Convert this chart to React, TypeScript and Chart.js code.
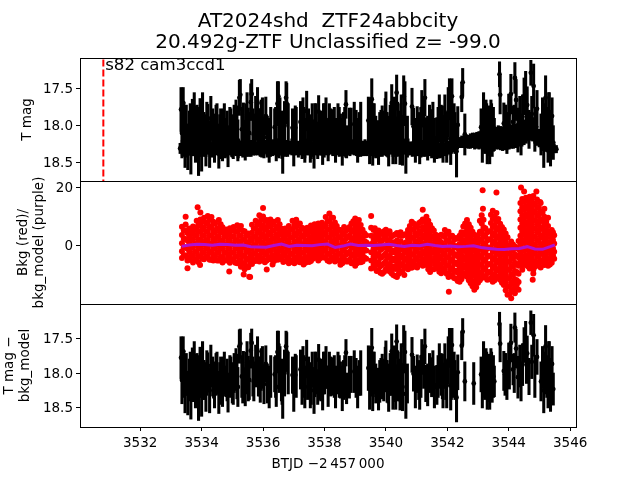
import React, { useEffect, useRef } from "react";
import { Chart, registerables } from "chart.js";

Chart.register(...registerables);

const FONT = "'DejaVu Sans'";
const titleLines = ["AT2024shd  ZTF24abbcity", "20.492g-ZTF Unclassified z= -99.0"];
const annotationText = "s82 cam3ccd1";
const xLabel = "BTJD \u22122\u2009457\u2009000";
const xTicks = [3532, 3534, 3536, 3538, 3540, 3542, 3544, 3546];
const magTicksTop = [17.5, 18, 18.5];
const bkgTicks = [0, 20];
const magTicksBottom = [17.5, 18, 18.5];
const eventTime = 3530.8;
const eventMags = [17.1, 18.754];

// binned light curve: time, magnitude, error
const lcTimes = [3533.33,3533.36,3533.4,3533.42,3533.46,3533.5,3533.55,3533.6,3533.65,3533.7,3533.76,3533.8,3533.85,3533.9,3533.95,3534.0,3534.03,3534.08,3534.14,3534.2,3534.26,3534.3,3534.36,3534.42,3534.5,3534.56,3534.62,3534.68,3534.74,3534.8,3534.86,3534.92,3535.0,3535.06,3535.12,3535.18,3535.23,3535.26,3535.31,3535.36,3535.42,3535.48,3535.55,3535.6,3535.63,3535.7,3535.76,3535.82,3535.88,3535.94,3535.98,3536.03,3536.09,3536.2,3536.38,3536.43,3536.47,3536.5,3536.55,3536.6,3536.64,3536.7,3536.75,3536.77,3536.96,3537.0,3537.05,3537.22,3537.27,3537.3,3537.36,3537.42,3537.48,3537.54,3537.6,3537.66,3537.72,3537.78,3537.81,3537.88,3537.94,3538.0,3538.05,3538.12,3538.2,3538.27,3538.36,3538.44,3538.52,3538.58,3538.66,3538.7,3538.72,3538.81,3538.97,3539.03,3539.08,3539.13,3539.43,3539.47,3539.5,3539.54,3539.57,3539.62,3539.76,3539.84,3539.93,3539.98,3540.0,3540.04,3540.09,3540.14,3540.19,3540.23,3540.28,3540.32,3540.35,3540.4,3540.46,3540.5,3540.54,3540.58,3540.62,3540.65,3540.85,3540.9,3540.96,3541.02,3541.1,3541.17,3541.23,3541.27,3541.36,3541.42,3541.49,3541.58,3541.66,3541.74,3541.8,3541.86,3541.92,3541.98,3542.03,3542.07,3542.11,3542.15,3542.2,3542.25,3542.3,3542.34,3542.47,3542.5,3542.57,3542.86,3543.1,3543.14,3543.18,3543.22,3543.26,3543.3,3543.34,3543.38,3543.42,3543.46,3543.5,3543.53,3543.7,3543.72,3543.84,3543.88,3543.94,3544.0,3544.07,3544.14,3544.2,3544.24,3544.3,3544.4,3544.45,3544.5,3544.55,3544.6,3544.72,3544.75,3544.81,3544.92,3545.05,3545.1,3545.14,3545.2,3545.24,3545.28,3545.32,3545.36,3545.41,3545.45];
const lcMags = [17.78,18.1,17.69,17.98,18.27,18.0,18.3,18.1,18.32,17.9,17.85,18.22,18.05,18.3,17.88,18.32,17.84,18.1,18.2,17.98,18.25,17.9,18.05,18.25,18.0,18.28,18.02,18.2,18.0,18.12,18.28,18.05,18.18,18.0,17.95,18.2,17.62,17.58,18.05,17.95,18.22,17.85,18.1,17.68,17.57,18.12,17.9,17.69,18.05,17.95,17.92,18.16,17.87,18.2,18.02,18.2,17.7,17.6,17.9,18.1,18.3,18.0,17.62,17.7,18.03,18.27,18.03,17.95,18.2,17.92,18.2,17.8,18.05,18.2,17.95,18.25,18.0,18.2,17.81,18.1,18.25,18.0,17.92,18.2,18.05,18.05,18.2,18.0,18.1,18.22,18.05,17.71,18.22,18.06,17.98,18.07,18.2,18.07,17.93,18.22,17.98,17.64,18.2,18.0,18.23,18.01,18.1,17.95,17.84,18.12,18.25,18.02,17.69,18.22,17.95,18.2,17.55,18.05,18.25,17.9,18.2,17.6,17.7,18.3,17.74,18.01,18.2,18.01,18.2,17.77,17.92,17.62,18.17,18.0,18.06,18.2,18.17,17.9,18.02,18.2,17.88,18.18,17.82,17.64,18.18,17.6,18.05,18.1,18.35,17.99,17.61,17.41,18.12,18.15,18.02,18.2,17.85,18.1,17.95,18.22,18.05,18.2,17.9,18.12,18.05,18.12,17.3,17.58,17.97,18.02,18.1,17.85,17.57,17.95,17.35,17.65,18.06,18.12,17.88,17.6,17.52,17.72,17.28,17.84,17.46,17.77,18.12,17.92,18.25,17.62,18.05,18.2,17.85,18.25,17.87,18.23];
const lcErrs = [.3,.34,.21,.3,.3,.28,.3,.3,.34,.26,.3,.28,.33,.38,.25,.3,.29,.28,.35,.27,.32,.3,.28,.25,.3,.3,.25,.28,.3,.22,.28,.3,.25,.28,.3,.28,.24,.21,.3,.26,.25,.3,.28,.25,.2,.28,.3,.21,.28,.3,.3,.28,.26,.3,.25,.28,.3,.2,.28,.3,.35,.33,.22,.28,.26,.28,.3,.28,.25,.3,.3,.27,.28,.3,.25,.33,.3,.25,.22,.3,.28,.3,.3,.28,.28,.27,.3,.3,.26,.32,.3,.19,.22,.3,.3,.28,.3,.25,.32,.3,.35,.28,.34,.3,.3,.22,.3,.32,.3,.3,.3,.3,.25,.3,.34,.32,.24,.35,.28,.32,.34,.28,.3,.35,.25,.25,.3,.27,.32,.25,.3,.25,.3,.28,.28,.3,.28,.32,.3,.3,.3,.32,.34,.28,.35,.24,.3,.28,.35,.25,.2,.19,.28,.3,.25,.3,.3,.28,.3,.3,.32,.32,.25,.3,.3,.22,.17,.26,.28,.3,.28,.28,.27,.22,.21,.28,.3,.28,.3,.25,.26,.25,.17,.24,.3,.25,.28,.3,.32,.3,.3,.3,.3,.3,.25,.23];

// further readings filling the dense stretches
const extraTimes = [3533.44,3533.63,3533.73,3533.83,3533.93,3534.05,3534.17,3534.39,3534.47,3534.59,3534.71,3534.83,3534.95,3535.03,3535.15,3535.34,3535.45,3535.52,3535.67,3535.85,3535.91,3536.14,3536.25,3536.41,3536.53,3536.62,3536.82,3537.08,3537.33,3537.45,3537.57,3537.69,3537.84,3537.97,3538.16,3538.32,3538.48,3538.62,3538.87,3539.18,3539.59,3539.67,3539.8,3539.88,3540.07,3540.17,3540.25,3540.38,3540.44,3540.7,3541.07,3541.14,3541.3,3541.53,3541.7,3541.84,3541.95,3542.13,3542.22,3543.2,3543.28,3543.36,3543.44,3543.9,3544.02,3544.18,3544.36,3544.58,3544.66,3544.85,3545.18,3545.3,3545.38];
const extraMags = [18.05,18.0,18.15,18.05,18.05,18.1,18.0,18.1,18.02,18.15,18.05,18.1,18.05,18.15,18.05,18.15,18.0,18.08,18.05,18.05,18.12,18.15,18.05,18.05,18.0,18.15,18.0,18.05,18.05,18.1,18.15,18.02,18.1,18.0,18.0,18.05,18.05,18.1,18.02,18.0,18.02,18.15,18.12,18.05,18.15,18.02,18.15,18.0,18.1,18.15,18.1,18.05,18.15,18.0,18.05,18.05,18.1,18.08,18.0,18.05,18.0,18.15,18.0,18.0,17.95,18.0,17.9,17.85,18.05,18.05,18.0,17.85,18.05];
const extraErrs = [.3,.3,.26,.32,.3,.28,.32,.26,.3,.3,.28,.3,.28,.3,.32,.28,.3,.32,.28,.28,.3,.28,.3,.3,.28,.3,.3,.3,.3,.28,.3,.32,.28,.3,.3,.3,.3,.28,.26,.32,.32,.28,.3,.32,.28,.3,.26,.32,.3,.28,.28,.3,.26,.32,.3,.32,.28,.3,.3,.3,.3,.26,.3,.28,.28,.28,.3,.3,.26,.3,.3,.3,.26];
// stretch of the run in which the T mag panel shows no tall error bars
const topPanelQuiet = [3542.6, 3543.05];

// densely sampled magnitudes forming the band near 18.3
const bandTimes = [3533.3,3533.37,3533.44,3533.51,3533.58,3533.65,3533.72,3533.79,3533.86,3533.93,3534.0,3534.07,3534.14,3534.21,3534.28,3534.35,3534.42,3534.49,3534.56,3534.63,3534.7,3534.77,3534.84,3534.91,3534.98,3535.05,3535.12,3535.19,3535.26,3535.33,3535.4,3535.47,3535.54,3535.61,3535.68,3535.75,3535.82,3535.89,3535.96,3536.03,3536.1,3536.17,3536.24,3536.31,3536.38,3536.45,3536.52,3536.59,3536.66,3536.73,3536.8,3536.87,3536.94,3537.01,3537.08,3537.15,3537.22,3537.29,3537.36,3537.43,3537.5,3537.57,3537.64,3537.71,3537.78,3537.85,3537.92,3537.99,3538.06,3538.13,3538.2,3538.27,3538.34,3538.41,3538.48,3538.55,3538.62,3538.69,3538.76,3538.83,3538.9,3538.97,3539.04,3539.11,3539.18,3539.25,3539.32,3539.39,3539.46,3539.53,3539.6,3539.67,3539.74,3539.81,3539.88,3539.95,3540.02,3540.09,3540.16,3540.23,3540.3,3540.37,3540.44,3540.51,3540.58,3540.65,3540.72,3540.79,3540.86,3540.93,3541.0,3541.07,3541.14,3541.21,3541.28,3541.35,3541.42,3541.49,3541.56,3541.63,3541.7,3541.77,3541.84,3541.91,3541.98,3542.05,3542.12,3542.19,3542.26,3542.33,3542.4,3542.47,3542.54,3542.61,3542.68,3542.75,3542.82,3542.89,3542.96,3543.03,3543.1,3543.17,3543.24,3543.31,3543.38,3543.45,3543.52,3543.59,3543.66,3543.73,3543.8,3543.87,3543.94,3544.01,3544.08,3544.15,3544.22,3544.29,3544.36,3544.43,3544.5,3544.57,3544.64,3544.71,3544.78,3544.85,3544.92,3544.99,3545.06,3545.13,3545.2,3545.27,3545.34,3545.41,3545.48,3545.55];
const bandMags = [18.31,18.3,18.31,18.32,18.3,18.29,18.31,18.3,18.33,18.31,18.3,18.32,18.31,18.29,18.31,18.33,18.31,18.3,18.32,18.3,18.31,18.33,18.32,18.3,18.31,18.3,18.32,18.33,18.31,18.3,18.3,18.32,18.33,18.31,18.3,18.29,18.31,18.3,18.32,18.3,18.29,18.31,18.32,18.3,18.31,18.32,18.33,18.31,18.3,18.31,18.32,18.3,18.29,18.3,18.31,18.32,18.3,18.31,18.33,18.31,18.3,18.3,18.32,18.31,18.29,18.3,18.31,18.32,18.3,18.29,18.3,18.31,18.29,18.31,18.32,18.3,18.31,18.33,18.31,18.3,18.29,18.31,18.3,18.32,18.33,18.31,18.3,18.31,18.29,18.3,18.31,18.33,18.32,18.3,18.31,18.3,18.32,18.31,18.29,18.31,18.33,18.32,18.3,18.31,18.29,18.28,18.29,18.31,18.32,18.3,18.31,18.32,18.33,18.31,18.32,18.3,18.31,18.33,18.34,18.32,18.33,18.34,18.33,18.32,18.31,18.3,18.29,18.27,18.26,18.24,18.23,18.22,18.22,18.21,18.22,18.21,18.2,18.21,18.2,18.2,18.19,18.19,18.18,18.18,18.17,18.17,18.16,18.17,18.16,18.17,18.18,18.17,18.16,18.15,18.15,18.14,18.14,18.13,18.12,18.11,18.09,18.07,18.04,18.03,18.05,18.09,18.14,18.17,18.2,18.23,18.25,18.27,18.29,18.3,18.31,18.32];
const bandErrs = [.07,.1,.11,.11,.1,.11,.1,.11,.1,.11,.11,.1,.11,.1,.11,.1,.11,.1,.09,.11,.1,.11,.1,.1,.11,.1,.09,.11,.1,.11,.1,.1,.09,.11,.1,.11,.09,.1,.11,.1,.09,.11,.1,.11,.09,.1,.11,.09,.1,.11,.1,.09,.11,.1,.09,.11,.1,.1,.11,.09,.1,.11,.1,.09,.11,.1,.09,.11,.1,.11,.09,.1,.11,.09,.1,.11,.1,.1,.09,.11,.1,.09,.11,.1,.09,.1,.11,.1,.09,.11,.1,.11,.09,.1,.11,.1,.09,.11,.1,.11,.09,.1,.11,.09,.1,.1,.11,.09,.1,.11,.1,.09,.1,.11,.1,.09,.1,.11,.09,.1,.11,.1,.1,.09,.1,.09,.08,.09,.08,.08,.07,.08,.08,.09,.09,.1,.1,.11,.11,.12,.12,.13,.13,.14,.14,.15,.15,.15,.16,.16,.16,.16,.17,.17,.16,.17,.16,.16,.16,.17,.17,.17,.17,.17,.16,.15,.13,.12,.12,.11,.1,.09,.08,.07,.06,.05];

// background flux, one list of readings per time
const bkgTimes = [3533.36,3533.48,3533.6,3533.72,3533.84,3533.96,3534.08,3534.2,3534.32,3534.44,3534.56,3534.68,3534.8,3534.92,3535.04,3535.16,3535.28,3535.4,3535.52,3535.64,3535.76,3535.88,3536.0,3536.12,3536.24,3536.36,3536.48,3536.6,3536.72,3536.84,3536.96,3537.08,3537.2,3537.32,3537.44,3537.56,3537.68,3537.8,3537.92,3538.04,3538.16,3538.28,3538.4,3538.52,3538.64,3538.76,3538.88,3539.0,3539.12,3539.24,3539.36,3539.52,3539.64,3539.76,3539.88,3540.0,3540.12,3540.24,3540.36,3540.48,3540.6,3540.72,3540.84,3540.96,3541.08,3541.2,3541.32,3541.44,3541.56,3541.68,3541.8,3541.92,3542.04,3542.16,3542.28,3542.4,3542.52,3542.64,3542.76,3542.88,3543.0,3543.12,3543.24,3543.36,3543.48,3543.6,3543.72,3543.84,3543.96,3544.08,3544.2,3544.32,3544.44,3544.56,3544.68,3544.8,3544.92,3545.04,3545.16,3545.28,3545.4,3545.48];
const bkgReadings = [
[6.5,3.7,.9,-1.9,-4.2],[9.9,7.3,5.2,2.3,-.5,-3.3],[5.9,3.6,.8,-2,-4.8],[6.6,4.9,2.2,-.6,-3.4,-5.7],[8.6,6.3,3.5,.7,-2.1,-4.9],[11.4,9,7,4.8,2,-.8,-3.6],[9.6,6.3,3.4,.6,-2.2,-4.6],[10.2,7.6,4.8,2,-.8,-3.6],[9.8,6.6,3.6,.8,-2,-4.8],[7.6,4.6,1.9,-.9,-3.7],[8.8,6,3.2,.4,-2.4,-5],[6.3,4.7,1.8,-1,-3.8,-5.7],[5.6,3.2,.4,-2.4,-5],[6,4.6,1.8,-1,-3.8,-5.8],[6.4,3.3,.5,-2.3,-5.1],[7,4.8,2,-.8,-3.6,-6],[6.8,3.5,.7,-2.1,-4.9,-7.2],[5,2.2,-.6,-3.4,-6.2,-8],[4.2,1.2,-1.6,-4.4,-7.3],[7.2,4.5,1.7,-1.1,-3.9,-6.2],[8.6,5.8,3,.2,-2.6,-5.2],[10.4,8,5.1,2.3,-.5,-3.3,-5.4],[10,7,4,1.2,-1.6,-4.4],[8.8,6,3.1,.3,-2.5,-5],[9,6.6,3.8,1,-1.8,-4.6],[8.2,5.2,2.4,-.4,-3.2,-5.2],[8.8,6,3.1,.3,-2.5,-4.8],[5.8,3.8,1,-1.8,-4.6],[5.9,3.2,.4,-2.4,-5.2],[6.8,4.2,1.4,-1.4,-4.2,-6],[8.6,5.7,2.9,.1,-2.7,-5.5],[8.9,6.4,3.6,.8,-2,-4.6],[7.6,4.8,2,-.8,-3.6,-5.6],[5.9,3.2,.4,-2.4,-5.2,-6.4],[6.2,3.9,1.1,-1.7,-4.5],[6.9,4.8,2,-.8,-3.6,-5.2],[7.4,5.1,2.3,-.5,-3.3],[7.6,4.9,2.1,-.7,-3.5,-5],[7.9,5.2,2.4,-.4,-3.2],[9.8,7,4.3,1.5,-1.3,-4.1],[11,8.4,5.6,2.8,0,-2.8,-5.4],[9.6,6.5,3.7,.9,-1.9,-4.7],[6.8,4.2,1.4,-1.4,-4.2],[5.4,3,.2,-2.6,-5.4,-6.5],[6.4,3.9,1.1,-1.7,-4.5],[5.6,3,.2,-2.6,-5.4],[7.6,5,2.2,-.6,-3.4,-6],[9.3,6.8,4,1.2,-1.6,-4.4,-6.8],[8.8,6.2,3.4,.6,-2.2,-5],[5.5,3,.2,-2.6,-5.4],[3.6,1.2,-1.6,-4.4],
[10.2,6.2,3.4,.6,-2.2,-5,-7.8],[6,3.4,.6,-2.2,-5,-7.6],[5.2,2.8,0,-2.8,-5.6,-8.4],[4.6,1.8,-1,-3.8,-6.6,-9.6],[5.5,3,.2,-2.6,-5.4,-8],[5,2,-.8,-3.6,-6.4,-8.7],[3.6,1.2,-1.6,-4.4,-7.2,-10],[4.4,1.8,-1,-3.8,-6.6,-10.7],[4.6,1.6,-1.2,-4,-6.8,-9],[3.8,.8,-2,-4.8,-7.6,-10],[5.4,2.6,-.2,-3,-5.8,-8],[8.2,5.6,2.8,0,-2.8,-5.6,-7.5],[7,4.2,1.4,-1.4,-4.2,-6.6],[7.8,5,2.2,-.6,-3.4,-6.2],[9,6.4,3.6,.8,-2,-4.8,-6.8],[9.9,7,4.2,1.4,-1.4,-4.2,-6.6],[7.2,4.6,1.8,-1,-3.8,-6.6,-9],[5.2,3.2,.4,-2.4,-5.2,-8],[3.4,.6,-2.2,-5,-7.8],[3.8,1.2,-1.6,-4.4,-7.2,-9.4],[5.4,3,.2,-2.6,-5.4,-8.2],[4.8,1.8,-1,-3.8,-6.6,-9.4,-10.7],[3.4,.8,-2,-4.8,-7.6,-10.4],[2.7,-.1,-2.9,-5.7,-8.5,-11.3],[3.4,.6,-2.2,-5,-7.8,-10.6,-12.3],[6.6,3.8,1,-1.8,-4.6,-7.4,-10.2],[8.8,6,3.2,.4,-2.4,-5.2,-8,-10.6],[6.2,3.4,.6,-2.2,-5,-7.8,-10.6,-12.8],[3.8,1,-1.8,-4.6,-7.4,-10.2,-13,-15],[3.6,.8,-2,-4.8,-7.6,-10.4,-12.6],[10.4,7.6,5,2.2,-.6,-3.4,-6.2,-9,-11],[6,3.2,.4,-2.4,-5.2,-8,-10.8],[5,2.2,-.6,-3.4,-6.2,-9,-11.4],[12,9.2,6.4,3.6,.8,-2,-4.8,-7.6,-10.4,-12.3],[11.2,8.4,5.6,2.8,0,-2.8,-5.6,-8.4,-11],[7.5,4.7,1.9,-.9,-3.7,-6.5,-9.3,-11.6],[5.6,2.8,0,-2.8,-5.6,-8.4,-11.2,-13.4],[2.9,.1,-2.7,-5.5,-8.3,-11.1,-13.9,-16.7],[1.5,-1.3,-4.1,-6.9,-9.7,-12.5,-15.3,-17.9],[-.2,-3,-5.8,-8.6,-11.4,-14.2,-16.2],[1.6,-1.2,-4,-6.8,-9.6,-12.4,-15],[16,13.2,10.4,7.6,4.8,2,-.8,-3.6,-6.4,-8.2],[16.4,13.6,10.8,8,5.2,2.4,-.4,-3.2,-5.6],[16.8,14,11.2,8.4,5.6,2.8,0,-2.8,-5.6,-7.8],[17,14.2,11.4,8.6,5.8,3,.2,-2.6,-5.4,-8.2,-9.5],[15.8,13,10.2,7.4,4.6,1.8,-1,-3.8,-6.6],[14.6,11.8,9,6.2,3.4,.6,-2.2,-5,-7.4],[12.7,9.9,7.1,4.3,1.5,-1.3,-4.1,-6.6],[9.6,6.8,4,1.2,-1.6,-4.4,-6.8],[5.4,2.6,-.2,-3,-5.8],[3.6,.8,-2,-4.4]
];
// readings taken between those columns
const bkgMidTimes = [3533.42,3533.54,3533.66,3533.78,3533.9,3534.02,3534.14,3534.26,3534.38,3534.5,3534.62,3534.74,3534.86,3534.98,3535.1,3535.22,3535.34,3535.46,3535.58,3535.7,3535.82,3535.94,3536.06,3536.18,3536.3,3536.42,3536.54,3536.66,3536.78,3536.9,3537.02,3537.14,3537.26,3537.38,3537.5,3537.62,3537.74,3537.86,3537.98,3538.1,3538.22,3538.34,3538.46,3538.58,3538.7,3538.82,3538.94,3539.06,3539.18,3539.3,3539.6,3539.7,3539.82,3539.94,3540.06,3540.18,3540.3,3540.42,3540.54,3540.66,3540.78,3540.9,3541.02,3541.14,3541.26,3541.38,3541.5,3541.62,3541.74,3541.86,3541.98,3542.1,3542.22,3542.34,3542.46,3542.58,3542.7,3542.82,3542.94,3543.06,3543.18,3543.3,3543.42,3543.54,3543.66,3543.78,3543.9,3544.02,3544.14,3544.26,3544.38,3544.5,3544.62,3544.74,3544.86,3544.98,3545.1,3545.22,3545.34,3545.44];
const bkgMidReadings = [
[5.2,2.3,-.5,-3.2],[4.4,1.8,-1,-3.8,-5],[4.6,2.2,-.6,-3.4],[5.4,3.5,.8,-2,-4.6],[7.2,4.9,2.1,-.7,-3.5,-5.6],[8.2,5.9,3.4,.6,-2.2,-4.4],[8,4.9,2,-.8,-3.6],[8.9,6.2,3.4,.6,-2.2,-4.8],[8.2,5.1,2.2,-.6,-3.4,-5],[6,3.2,.5,-2.3,-5],[7.4,4.6,1.8,-1,-3.8],[5,3.2,.4,-2.4,-4.9],[4.4,1.8,-1,-3.7],[5.3,3.2,.4,-2.4,-4.6],[4.9,1.9,-.9,-3.7,-5.8],[5.9,3.4,.6,-2.2,-5],[5.1,2.1,-.7,-3.5,-6],[3.6,.8,-2,-4.8,-7.1],[2.7,-.2,-3,-5.9],[5.9,3.1,.3,-2.5,-5.1],[7.2,4.4,1.6,-1.2,-3.9],[9.2,6.5,3.7,.9,-1.9,-4.4],[8.5,5.5,2.6,-.2,-3,-5.6],[7.4,4.5,1.7,-1.1,-3.8],[7.8,5.2,2.4,-.4,-3.2],[6.7,3.8,1,-1.8,-4.2],[7.4,4.5,1.7,-1.1,-3.7],[4.8,2.4,-.4,-3.2,-5.5],[4.5,1.8,-1,-3.8],[5.5,2.8,0,-2.8,-5.1],[7.2,4.3,1.5,-1.3,-4.1,-6],[7.6,5,2.2,-.6,-3.3,-5.4],[6.2,3.4,.6,-2.2,-4.6],[4.5,1.8,-1,-3.8,-5.8],[5,2.5,-.3,-3.1,-5.5],[5.8,3.4,.6,-2.2,-4.4],[6.2,3.7,.9,-1.9,-4.1],[6.2,3.5,.7,-2.1,-4.3],[6.5,3.8,1,-1.8,-4],[8.4,5.6,2.9,.1,-2.7,-5],[9.7,7,4.2,1.4,-1.4,-4.1],[8,5.1,2.3,-.5,-3.3,-5.4],[5.5,2.8,0,-2.8,-5],[4.2,1.6,-1.2,-4,-6],[5.2,2.5,-.3,-3.1,-5.4],[6.4,3.6,.8,-2,-4.8],[8.4,5.4,2.6,-.2,-3,-5.6],[8,5.3,2.5,-.3,-3.1,-6],[7.1,4.8,2,-.8,-3.6,-5.6],[4.3,1.6,-1.2,-4],
[5.4,2,-.8,-3.6,-6.4],[4.6,2.1,-.7,-3.5,-6.3,-8.6],[4.2,1.4,-1.4,-4.2,-7,-9.2],[5,3.2,-.4,-3.2,-6,-9],[4.1,1.6,-1.2,-4,-6.8,-8.4],[3.2,.4,-2.4,-5.2,-8,-9.4],[3.9,.5,-2.3,-5.1,-7.9,-10.3],[3.6,.2,-2.6,-5.4,-8.2,-9.6],[3.4,-.6,-3.4,-6.2,-9],[4,1.2,-1.6,-4.4,-7.2],[6.8,4.2,1.4,-1.4,-4.2,-7],[7.6,5.5,2.7,-.1,-2.9,-5.4,-7.2],[6.4,3.6,.8,-2,-4.8,-7.4],[8.2,5,2.2,-.6,-3.4,-6.2],[8.4,5.6,2.8,0,-2.8,-5.6],[8.6,5.8,3,.2,-2.6,-5.4,-8],[6,3.2,.4,-2.4,-5.2,-8],[3.8,1.8,-1,-3.8,-6.6],[2,-.8,-3.6,-6.4,-8.9],[3.4,-.2,-3,-5.8,-8.6],[4.2,1.6,-1.2,-4,-6.8,-9.6],[3.2,.4,-2.4,-5.2,-8,-10],[2,-.6,-3.4,-6.2,-9,-11],[2.4,-.8,-3.6,-6.4,-9.2,-12],[4.6,2.2,-.6,-3.4,-6.2,-9,-11.4],[7.6,4.6,1.8,-1,-3.8,-6.6,-9.4],[7.4,4.8,2,-.8,-3.6,-6.4,-9.2,-11.8],[4.8,2,-.8,-3.6,-6.4,-9.2,-12,-13.8],[2.4,-.4,-3.2,-6,-8.8,-11.6,-14.2],[8.6,4.8,2,-.8,-3.6,-6.4,-9.2,-11.8],[8.9,6.3,3.6,.8,-2,-4.8,-7.6,-10.4],[4.6,1.8,-1,-3.8,-6.6,-9.4,-11.6],[10.6,7.8,5,2.2,-.6,-3.4,-6.2,-9,-11],[10,7,4.2,1.4,-1.4,-4.2,-7,-9.8,-11.8],[9.2,6.1,3.3,.5,-2.3,-5.1,-7.9,-10.6],[6.4,3.4,.6,-2.2,-5,-7.8,-10.6,-12.6],[4.2,1.5,-1.3,-4.1,-6.9,-9.7,-12.5,-15.2],[.2,-2.6,-5.4,-8.2,-11,-13.8,-16.6],[.4,-1.6,-4.4,-7.2,-10,-12.8,-15.2],[-.6,-3.4,-6.2,-9,-11.8,-13.4],[14.6,11.8,9,6.2,3.4,.6,-2.2,-5],[15,12.2,9.4,6.6,3.8,1,-1.8,-4.6,-6.6],[15.4,12.6,9.8,7,4.2,1.4,-1.4,-4.2,-7],[15.6,12.8,10,7.2,4.4,1.6,-1.2,-4,-6.8],[14.4,11.6,8.8,6,3.2,.4,-2.4,-5.2,-7.2],[13.2,10.4,7.6,4.8,2,-.8,-3.6,-6.2],[11.3,8.5,5.7,2.9,.1,-2.7,-5.5],[8.2,5.4,2.6,-.2,-3,-5.8],[4,1.2,-1.6,-4.4,-6.4],[4.6,2,-.8,-3.2]
];
const bkgOutlierTimes = [3533.54,3533.87,3533.95,3534.9,3535.37,3535.55,3535.58,3536,3536.12,3536.31,3541.2,3542.05,3543.15,3543.16,3543.6,3544.4,3544.5,3544.9,3544.78,3545.02];
const bkgOutlierValues = [-7.7,13.2,-6.6,-8.8,-9.8,-10.6,-10.7,12.9,-8.1,-6.4,12.3,-15.7,19,12.7,18.2,19.9,18.6,18.6,-11.6,15];

const modelTimes = [3533.35,3533.6,3533.85,3534.1,3534.35,3534.6,3534.85,3535.1,3535.35,3535.6,3535.85,3536.1,3536.35,3536.6,3536.85,3537.1,3537.35,3537.6,3537.85,3538.1,3538.35,3538.6,3538.85,3539.1,3539.35,3539.6,3539.85,3540.1,3540.35,3540.6,3540.85,3541.1,3541.35,3541.6,3541.85,3542.1,3542.35,3542.6,3542.85,3543.1,3543.35,3543.6,3543.85,3544.1,3544.35,3544.6,3544.85,3545.1,3545.35,3545.5];
const modelValues = [-.2,.3,.5,.4,.2,.5,.4,.2,.3,-.3,-.4,-.5,.1,.6,-.2,.2,.1,.0,.4,.6,-.6,-.1,.6,.1,.2,.1,.3,.5,.1,-.2,.2,.0,.5,.1,-.2,-.1,-.3,-.2,.0,-.6,-.9,-1.2,-1.3,-1.0,-.9,-.3,-1.1,-1.2,-.3,.3];

const points = (xs: number[], ys: number[]) => xs.map((x, i) => ({ x, y: ys[i] }));
const bars = (xs: number[], ys: number[], es: number[]) =>
  xs.map((x, i) => ({ x, y: [ys[i] - es[i], ys[i] + es[i]] }));
const columns = (xs: number[], rows: number[][]) => xs.flatMap((x, i) => rows[i].map((y) => ({ x, y })));
const notQuiet = (d: { x: number }) => d.x < topPanelQuiet[0] || d.x > topPanelQuiet[1];
const eventLine = eventMags.map((y) => ({ x: eventTime, y }));

const frame = {
  id: "frame",
  afterDraw(chart: any) {
    const { ctx, chartArea: a, scales } = chart;
    ctx.save();
    ctx.strokeStyle = "#000";
    ctx.lineWidth = 1;
    ctx.strokeRect(a.left + 0.5, a.top + 0.5, a.right - a.left, a.bottom - a.top);
    for (const id of ["y2", "y3"]) {
      const y = Math.round(scales[id].top) + 0.5;
      ctx.beginPath();
      ctx.moveTo(a.left, y);
      ctx.lineTo(a.right, y);
      ctx.stroke();
    }
    ctx.fillStyle = "#000";
    ctx.font = `16.6px ${FONT}`;
    ctx.textBaseline = "alphabetic";
    ctx.fillText(annotationText, scales.x.getPixelForValue(3530.86), scales.y1.getPixelForValue(17.24));
    ctx.restore();
  },
};

const yScale = (ticksAt: number[], min: number, max: number, reverse: boolean, label: string | string[], pad: number, fmt: (v: number) => string) => ({
  type: "linear",
  stack: "panels",
  stackWeight: 1,
  min,
  max,
  reverse,
  offset: false,
  afterBuildTicks: (s: any) => { s.ticks = ticksAt.map((value) => ({ value })); },
  afterFit: (s: any) => { s.width = 80; },
  border: { display: false },
  grid: { drawOnChartArea: false, drawTicks: true, tickLength: 4, color: "#000", offset: false },
  ticks: { color: "#000", font: { family: FONT, size: 13.5 }, padding: 3, labelOffset: 1, callback: (v: any) => fmt(Number(v)) },
  title: { display: true, text: label, color: "#000", font: { family: FONT, size: 13.5, lineHeight: 1.19 }, padding: { top: pad, bottom: 0 } },
});

export default function App() {
  const ref = useRef<HTMLCanvasElement>(null);
  useEffect(() => {
    const dot = (color: string, r: number) => ({ backgroundColor: color, borderWidth: 0, pointRadius: r, order: 2 });
    const bar = { backgroundColor: "#000", barThickness: 2.4, grouped: false, order: 3 };
    const chart = new Chart(ref.current as HTMLCanvasElement, {
      type: "scatter",
      data: {
        datasets: [
          { type: "line", data: eventLine, yAxisID: "y1", borderColor: "#ff0000", borderWidth: 2, borderDash: [7, 3], pointRadius: 0, order: 1 },
          { type: "scatter", data: points(lcTimes, lcMags).filter(notQuiet), yAxisID: "y1", ...dot("#000", 2.4) },
          { type: "scatter", data: points(bandTimes, bandMags), yAxisID: "y1", ...dot("#000", 2.4) },
          { type: "bar", data: bars(lcTimes, lcMags, lcErrs).filter(notQuiet), yAxisID: "y1", ...bar },
          { type: "bar", data: bars(extraTimes, extraMags, extraErrs), yAxisID: "y1", ...bar },
          { type: "bar", data: bars(bandTimes, bandMags, bandErrs), yAxisID: "y1", ...bar },
          { type: "line", data: points(modelTimes, modelValues), yAxisID: "y2", borderColor: "#b010d0", borderWidth: 3, pointRadius: 0, tension: 0, order: 1 },
          { type: "scatter", data: columns(bkgTimes, bkgReadings), yAxisID: "y2", ...dot("#ff0000", 3) },
          { type: "scatter", data: columns(bkgMidTimes, bkgMidReadings), yAxisID: "y2", ...dot("#ff0000", 3) },
          { type: "scatter", data: points(bkgOutlierTimes, bkgOutlierValues), yAxisID: "y2", ...dot("#ff0000", 3) },
          { type: "scatter", data: points(lcTimes, lcMags), yAxisID: "y3", ...dot("#000", 2.4) },
          { type: "bar", data: bars(lcTimes, lcMags, lcErrs), yAxisID: "y3", ...bar },
          { type: "bar", data: bars(extraTimes, extraMags, extraErrs), yAxisID: "y3", ...bar },
        ] as any,
      },
      plugins: [frame],
      options: {
        responsive: false,
        animation: false,
        events: [],
        layout: { padding: { left: 0, right: 64, top: 0, bottom: 0 } },
        plugins: {
          legend: { display: false },
          tooltip: { enabled: false },
          title: {
            display: true,
            text: titleLines,
            fullSize: false,
            color: "#000",
            font: { family: FONT, size: 20, weight: "normal", lineHeight: 1.08 },
            padding: { top: 10.5, bottom: 4.3 },
          },
        },
        scales: {
          x: {
            type: "linear",
            min: 3530.04,
            max: 3546.19,
            offset: false,
            afterBuildTicks: (s: any) => { s.ticks = xTicks.map((value) => ({ value })); },
            afterFit: (s: any) => { s.height = 53; },
            border: { display: false },
            grid: { drawOnChartArea: false, drawTicks: true, tickLength: 4, color: "#000", offset: false },
            ticks: { color: "#000", maxRotation: 0, autoSkip: false, font: { family: FONT, size: 13.5 }, padding: 4, callback: (v: any) => String(v) },
            title: { display: true, text: xLabel, color: "#000", font: { family: FONT, size: 13.5 }, padding: { top: 0, bottom: 7 } },
          },
          y3: yScale(magTicksBottom, 17.012, 18.773, true, ["T mag \u2212", "bkg_model"], 1, (v) => v.toFixed(1)),
          y2: yScale(bkgTicks, -19.9, 22.15, false, ["Bkg (red)/", "bkg_model (purple)"], 15.5, (v) => String(v)),
          y1: yScale(magTicksTop, 17.078, 18.754, true, "T mag", 19, (v) => v.toFixed(1)),
        },
      } as any,
    });
    return () => chart.destroy();
  }, []);
  return (
    <div style={{ position: "absolute", left: 0, top: 0, width: 640, height: 480, background: "#fff" }}>
      <canvas ref={ref} width={640} height={480} style={{ display: "block" }} />
    </div>
  );
}
